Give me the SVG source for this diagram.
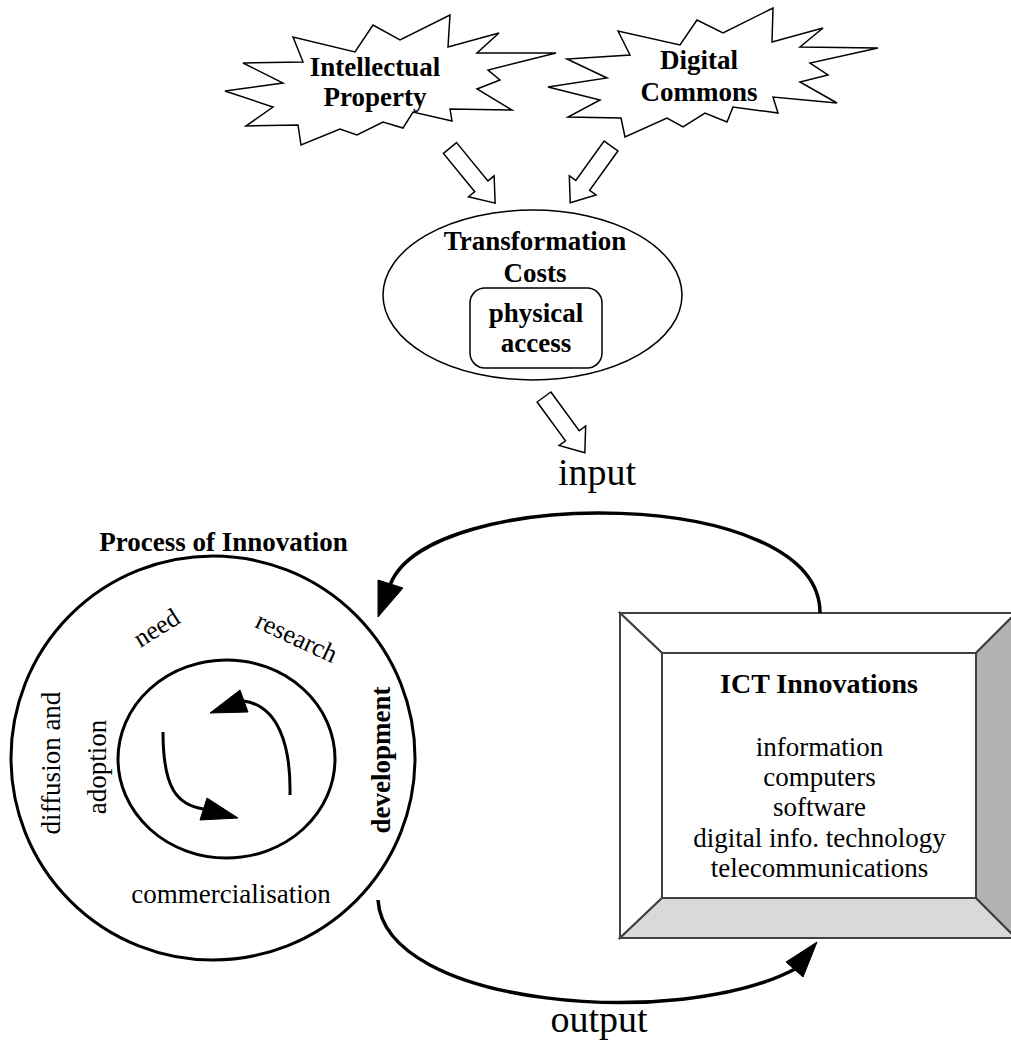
<svg xmlns="http://www.w3.org/2000/svg" width="1011" height="1041" viewBox="0 0 1011 1041">
<style>
text{font-family:"Liberation Serif","Times New Roman",serif;fill:#000}
.b{font-weight:bold;font-size:27px}
.r{font-size:27px}
.rs{font-size:26px}
.big{font-size:38px}
.star{fill:#fff;stroke:#000;stroke-width:1.5;stroke-linejoin:miter}
.hollow{fill:#fff;stroke:#000;stroke-width:1.5;stroke-linejoin:miter}
.thin{fill:#fff;stroke:#000;stroke-width:1.5}
.thick{fill:none;stroke:#000;stroke-width:3}
.conn{fill:none;stroke:#000;stroke-width:3.5}
.head{fill:#000;stroke:#000;stroke-width:1;stroke-linejoin:miter}
.bev{stroke:#404040;stroke-width:2;stroke-linejoin:miter}
</style>
<defs>
<polygon id="blockArrow" points="0,-8.5 50,-8.5 50,-16.5 72,0 50,16.5 50,8.5 0,8.5"/>
</defs>
<rect width="1011" height="1041" fill="#fff"/>

<g id="intellectual-property">
<polygon class="star" points="293,37 303,62 243,63 283,83 225,91 273,107 246,126 298,125 301,145 340,129 357,135 383,122 403,128 413,112 452,121 450,109 512,110 477,89 500,80 488,70 556,53 477,53 499,33 448,47 450,15 400,40 373,25 355,52"/>
<text class="b" x="375" y="76" text-anchor="middle">Intellectual</text>
<text class="b" x="375" y="106" text-anchor="middle">Property</text>
</g>

<g id="digital-commons">
<polygon class="star" points="618,31 630,55 567,59 607,78 548,87 600,100 568,117 621,118 625,137 667,118 683,127 705,113 727,122 733,107 778,113 773,97 837,103 800,82 828,75 810,63 878,48 800,47 823,28 772,42 773,8 723,33 697,20 680,45"/>
<text class="b" x="699" y="69" text-anchor="middle">Digital</text>
<text class="b" x="699" y="101" text-anchor="middle">Commons</text>
</g>

<g id="transformation-costs">
<ellipse class="thin" cx="532.5" cy="295" rx="149.5" ry="85"/>
<text class="b" x="535" y="250" text-anchor="middle">Transformation</text>
<text class="b" x="535" y="282" text-anchor="middle">Costs</text>
</g>

<g id="physical-access">
<rect class="thin" x="470" y="288" width="132" height="80" rx="15" ry="15"/>
<text class="b" x="536" y="322" text-anchor="middle">physical</text>
<text class="b" x="536" y="352" text-anchor="middle">access</text>
</g>

<g id="input-label">
<text class="big" x="597" y="485" text-anchor="middle">input</text>
</g>

<g id="process-of-innovation">
<text class="b" x="223.5" y="551" text-anchor="middle">Process of Innovation</text>
<circle class="thick" cx="213" cy="758" r="202"/>
<ellipse class="thick" cx="226.5" cy="759" rx="108.5" ry="99"/>
<text class="rs" transform="translate(161,635) rotate(-32)" text-anchor="middle">need</text>
<text class="rs" transform="translate(293,645) rotate(25)" text-anchor="middle">research</text>
<text class="b" transform="translate(390,760) rotate(-90)" text-anchor="middle">development</text>
<text class="r" transform="translate(60,763) rotate(-90)" text-anchor="middle">diffusion and</text>
<text class="r" transform="translate(106,767) rotate(-90)" text-anchor="middle">adoption</text>
<text class="r" x="231" y="903" text-anchor="middle">commercialisation</text>
<path class="thick" d="M290,795 C291,745 278,706 244,701"/>
<polygon class="head" points="210,713 240,690 248,712"/>
<path class="thick" d="M163,732 C163,790 178,805 203.5,809"/>
<polygon class="head" points="238,818 200,820 207,798"/>
</g>

<g id="ict-innovations">
<polygon class="bev" fill="#fff" points="620,613 1016,613 976,653 662,653"/>
<polygon class="bev" fill="#fff" points="620,613 662,653 662,898 620,938"/>
<polygon class="bev" fill="#d9d9d9" points="620,938 662,898 976,898 1016,938"/>
<polygon class="bev" fill="#b3b3b3" points="1016,613 976,653 976,898 1016,938"/>
<rect class="bev" fill="#fff" x="662" y="653" width="314" height="245"/>
<text class="b" style="font-size:28px" x="819" y="693" text-anchor="middle">ICT Innovations</text>
<text class="r" x="819.5" y="756" text-anchor="middle">information</text>
<text class="r" x="819.5" y="786" text-anchor="middle">computers</text>
<text class="r" x="819.5" y="816" text-anchor="middle">software</text>
<text class="r" x="819.5" y="847" text-anchor="middle">digital info. technology</text>
<text class="r" x="819.5" y="877" text-anchor="middle">telecommunications</text>
</g>

<g id="output-label">
<text class="big" x="599" y="1032" text-anchor="middle">output</text>
</g>

<g id="connectors">
<use href="#blockArrow" class="hollow" transform="translate(450,148) rotate(50.7) scale(0.99,1)"/>
<use href="#blockArrow" class="hollow" transform="translate(611,146) rotate(125.7) scale(0.97,1)"/>
<use href="#blockArrow" class="hollow" transform="translate(544,397) rotate(53.8) scale(0.96,1)"/>
<path class="conn" d="M820,613 C820,485 430,485 390.5,584"/>
<polygon class="head" points="378,617 378,580 403,588"/>
<path class="conn" d="M378,900 C385,1008 680,1030 795,969"/>
<polygon class="head" points="817,942 786,962 803,977"/>
</g>
</svg>
